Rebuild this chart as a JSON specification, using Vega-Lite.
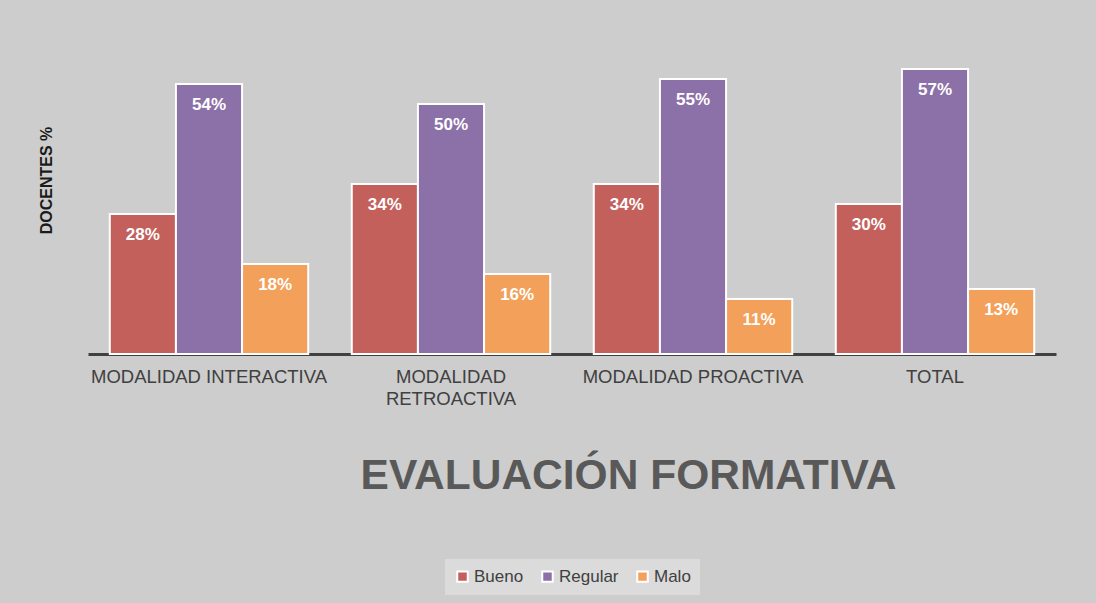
{
  "$schema": "https://vega.github.io/schema/vega-lite/v6.json",
  "width": 968,
  "height": 300,
  "autosize": {"type": "none"},
  "padding": {"left": 88, "top": 54, "right": 40, "bottom": 249},
  "background": "#cdcdcd",
  "config": {
    "font": "Liberation Sans",
    "view": {"stroke": null},
    "legend": {"layout": {"bottom": {"anchor": "middle"}}}
  },
  "data": {
    "values": [
      {"grupo": "MODALIDAD INTERACTIVA", "serie": "Bueno", "valor": 0.28},
      {"grupo": "MODALIDAD INTERACTIVA", "serie": "Regular", "valor": 0.54},
      {"grupo": "MODALIDAD INTERACTIVA", "serie": "Malo", "valor": 0.18},
      {"grupo": "MODALIDAD RETROACTIVA", "serie": "Bueno", "valor": 0.34},
      {"grupo": "MODALIDAD RETROACTIVA", "serie": "Regular", "valor": 0.50},
      {"grupo": "MODALIDAD RETROACTIVA", "serie": "Malo", "valor": 0.16},
      {"grupo": "MODALIDAD PROACTIVA", "serie": "Bueno", "valor": 0.34},
      {"grupo": "MODALIDAD PROACTIVA", "serie": "Regular", "valor": 0.55},
      {"grupo": "MODALIDAD PROACTIVA", "serie": "Malo", "valor": 0.11},
      {"grupo": "TOTAL", "serie": "Bueno", "valor": 0.30},
      {"grupo": "TOTAL", "serie": "Regular", "valor": 0.57},
      {"grupo": "TOTAL", "serie": "Malo", "valor": 0.13}
    ]
  },
  "encoding": {
    "x": {
      "field": "grupo",
      "type": "nominal",
      "sort": ["MODALIDAD INTERACTIVA", "MODALIDAD RETROACTIVA", "MODALIDAD PROACTIVA", "TOTAL"],
      "scale": {"paddingInner": 0.18, "paddingOuter": 0.09},
      "axis": {
        "title": "EVALUACIÓN FORMATIVA",
        "titleFontSize": 42.5,
        "titleFontWeight": "bold",
        "titleColor": "#595959",
        "titlePadding": 47,
        "titleX": 540,
        "labelAngle": 0,
        "labelFontSize": 18.5,
        "labelColor": "#404040",
        "labelPadding": 13,
        "labelLineHeight": 22,
        "labelLimit": 0,
        "labelExpr": "datum.label == 'MODALIDAD RETROACTIVA' ? ['MODALIDAD', 'RETROACTIVA'] : datum.label",
        "ticks": false,
        "domainColor": "#404040",
        "domainWidth": 3
      }
    },
    "xOffset": {
      "field": "serie",
      "type": "nominal",
      "sort": ["Bueno", "Regular", "Malo"]
    },
    "y": {
      "field": "valor",
      "type": "quantitative",
      "scale": {"domain": [0, 0.6]},
      "axis": {
        "title": "DOCENTES %",
        "titleFontSize": 16,
        "titleFontWeight": "bold",
        "titleColor": "#1a1a1a",
        "titleY": 126,
        "titlePadding": 34,
        "labels": false,
        "ticks": false,
        "grid": false,
        "domain": false
      }
    }
  },
  "layer": [
    {
      "mark": {"type": "bar", "stroke": "white", "strokeWidth": 2},
      "encoding": {
        "color": {
          "field": "serie",
          "type": "nominal",
          "sort": ["Bueno", "Regular", "Malo"],
          "scale": {"domain": ["Bueno", "Regular", "Malo"], "range": ["#c3605c", "#8c70a8", "#f2a05a"]},
          "legend": {
            "title": null,
            "orient": "bottom",
            "direction": "horizontal",
            "offset": 62,
            "symbolType": "square",
            "symbolSize": 110,
            "symbolStrokeColor": "white",
            "symbolStrokeWidth": 2,
            "labelFontSize": 17,
            "labelColor": "#404040",
            "labelOffset": 3,
            "columnPadding": 14,
            "fillColor": "rgba(225,225,225,0.7)",
            "padding": 9
          }
        }
      }
    },
    {
      "mark": {"type": "text", "color": "white", "fontWeight": "bold", "fontSize": 17, "baseline": "middle", "dy": 21},
      "encoding": {
        "text": {"field": "valor", "type": "quantitative", "format": ".0%"}
      }
    }
  ]
}
